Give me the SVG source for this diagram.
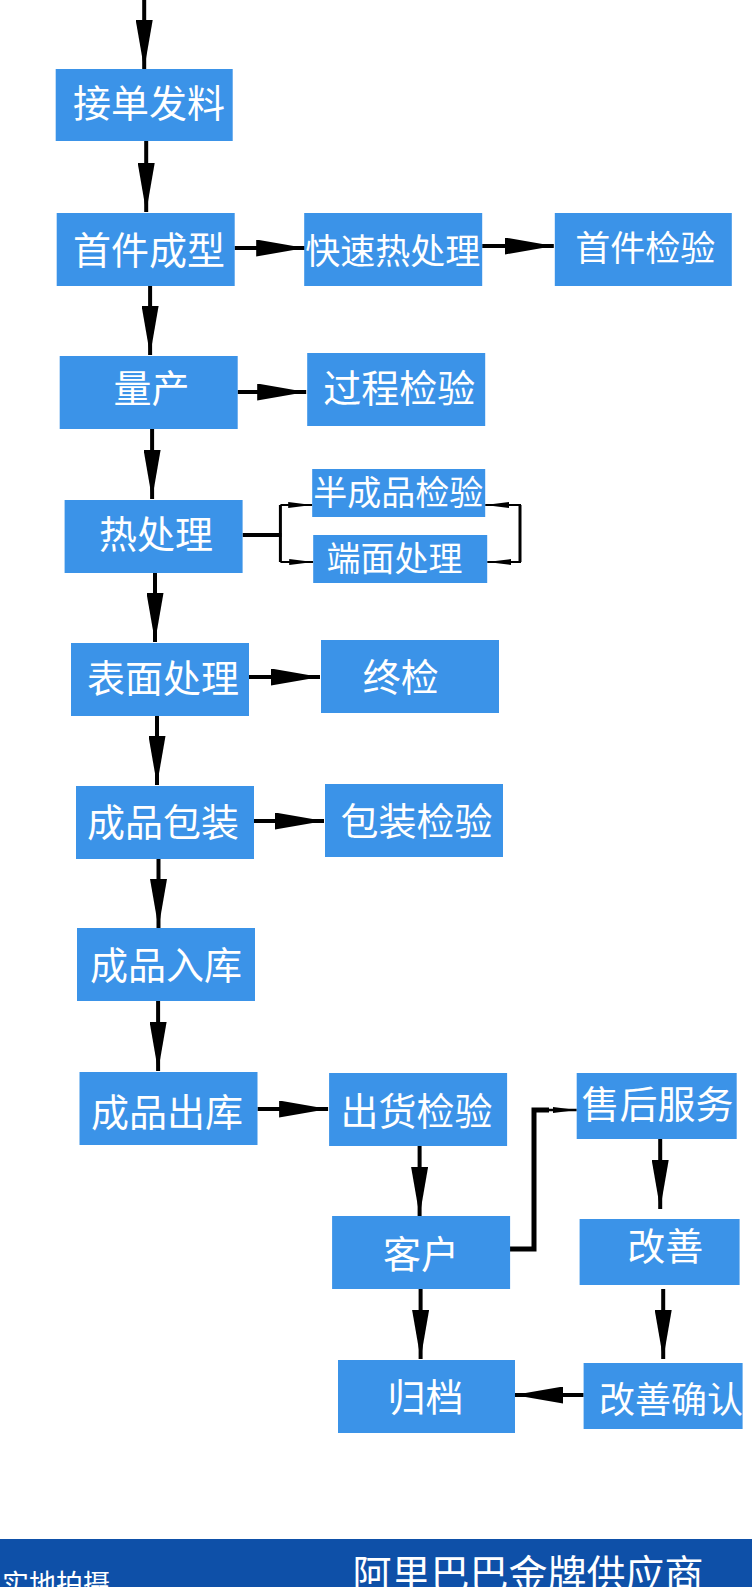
<svg xmlns="http://www.w3.org/2000/svg" width="752" height="1587" viewBox="0 0 752 1587">
<defs>
<style>
.b{fill:#3b93e8}
.t{fill:#fff;font-family:"Noto Sans CJK SC","Noto Sans",sans-serif;text-anchor:middle}
.c{stroke:#000;stroke-width:4;fill:none}
.s{stroke:#000;stroke-width:2;fill:none}
</style>
<marker id="a" markerUnits="userSpaceOnUse" markerWidth="49" markerHeight="17" refX="49" refY="8.5" orient="auto" viewBox="0 0 49 17"><path d="M0,0 L49,8.5 L0,17 Z" fill="#000"/></marker>
<marker id="m" markerUnits="userSpaceOnUse" markerWidth="24" markerHeight="6" refX="24" refY="3" orient="auto" viewBox="0 0 24 6"><path d="M0,0 L24,3 L0,6 Z" fill="#000"/></marker>
</defs>
<rect width="752" height="1587" fill="#fff"/>
<g id="connectors">
<path class="c" marker-end="url(#a)" d="M144.2,0 V69"/>
<path class="c" marker-end="url(#a)" d="M146.2,141 V212"/>
<path class="c" marker-end="url(#a)" d="M150.1,286 V355"/>
<path class="c" marker-end="url(#a)" d="M152.1,429 V499"/>
<path class="c" marker-end="url(#a)" d="M155,573 V642"/>
<path class="c" marker-end="url(#a)" d="M157,716 V785"/>
<path class="c" marker-end="url(#a)" d="M158.5,859 V928"/>
<path class="c" marker-end="url(#a)" d="M158.1,1001 V1071"/>
<path class="c" marker-end="url(#a)" d="M419.6,1146 V1216"/>
<path class="c" marker-end="url(#a)" d="M420.6,1289 V1359"/>
<path class="c" marker-end="url(#a)" d="M660.2,1139 V1209"/>
<path class="c" marker-end="url(#a)" d="M663.2,1289 V1359"/>
<path class="c" marker-end="url(#a)" d="M234.6,248 H305.2"/>
<path class="c" marker-end="url(#a)" d="M482.2,246 H553.8"/>
<path class="c" marker-end="url(#a)" d="M237.6,392 H306.2"/>
<path class="c" marker-end="url(#a)" d="M249,677 H320"/>
<path class="c" marker-end="url(#a)" d="M254,821 H324"/>
<path class="c" marker-end="url(#a)" d="M257.5,1109 H328.1"/>
<path class="c" marker-end="url(#a)" d="M583.6,1395 H514"/>
<path class="c" d="M242.6,535 H281.4"/>
<path class="s" style="stroke-width:3" d="M280.4,505 V562"/>
<path class="s" marker-end="url(#m)" d="M280.4,505 H312.2"/>
<path class="s" marker-end="url(#m)" d="M280.4,562 H313.2"/>
<path class="s" style="stroke-width:3" d="M520,505 V562"/>
<path class="s" marker-end="url(#m)" d="M521,505 H485.2"/>
<path class="s" marker-end="url(#m)" d="M521,562 H487.2"/>
<path class="c" style="stroke-width:5" d="M510,1249 H534 V1110 H549"/>
<path class="s" marker-end="url(#m)" style="stroke-width:2.5" d="M537,1110 H576.7"/>
</g>
<g id="n1"><rect class="b" x="55.7" y="69" width="177" height="72"/><text class="t" x="149.1" y="116.5" font-size="38">接单发料</text></g>
<g id="n2"><rect class="b" x="56.7" y="213" width="178" height="73"/><text class="t" x="149.1" y="264" font-size="38">首件成型</text></g>
<g id="n3"><rect class="b" x="304.2" y="213" width="178" height="73"/><text class="t" x="392.7" y="264" font-size="35">快速热处理</text></g>
<g id="n4"><rect class="b" x="554.8" y="213" width="177" height="73"/><text class="t" x="645.3" y="261" font-size="35">首件检验</text></g>
<g id="n5"><rect class="b" x="59.7" y="356" width="178" height="73"/><text class="t" x="151.6" y="401.5" font-size="38">量产</text></g>
<g id="n6"><rect class="b" x="307.2" y="353" width="178" height="73"/><text class="t" x="399.2" y="402" font-size="38">过程检验</text></g>
<g id="n7"><rect class="b" x="64.6" y="500" width="178" height="73"/><text class="t" x="156.1" y="548.4" font-size="38">热处理</text></g>
<g id="n8"><rect class="b" x="312.2" y="469" width="173" height="48"/><text class="t" x="398.2" y="505" font-size="34">半成品检验</text></g>
<g id="n9"><rect class="b" x="313.2" y="535" width="174" height="48"/><text class="t" x="394.4" y="571" font-size="34">端面处理</text></g>
<g id="n10"><rect class="b" x="71" y="643" width="178" height="73"/><text class="t" x="163" y="692.4" font-size="38">表面处理</text></g>
<g id="n11"><rect class="b" x="321" y="640" width="178" height="73"/><text class="t" x="400.7" y="691.4" font-size="38">终检</text></g>
<g id="n12"><rect class="b" x="76" y="786" width="178" height="73"/><text class="t" x="163" y="836.4" font-size="38">成品包装</text></g>
<g id="n13"><rect class="b" x="325" y="784" width="178" height="73"/><text class="t" x="416.5" y="835.4" font-size="38">包装检验</text></g>
<g id="n14"><rect class="b" x="77" y="928" width="178" height="73"/><text class="t" x="166" y="979.4" font-size="38">成品入库</text></g>
<g id="n15"><rect class="b" x="79.5" y="1072" width="178" height="73"/><text class="t" x="167" y="1126" font-size="38">成品出库</text></g>
<g id="n16"><rect class="b" x="329.1" y="1073" width="178" height="73"/><text class="t" x="416.6" y="1125" font-size="38">出货检验</text></g>
<g id="n17"><rect class="b" x="332.1" y="1216" width="178" height="73"/><text class="t" x="421" y="1268" font-size="38">客户</text></g>
<g id="n18"><rect class="b" x="338" y="1360" width="177" height="73"/><text class="t" x="425.5" y="1410.6" font-size="38">归档</text></g>
<g id="n19"><rect class="b" x="576.7" y="1073" width="160" height="66"/><text class="t" x="657.6" y="1118.4" font-size="38">售后服务</text></g>
<g id="n20"><rect class="b" x="579.6" y="1219" width="160" height="66"/><text class="t" x="665.2" y="1260" font-size="38">改善</text></g>
<g id="n21"><rect class="b" x="583.6" y="1363" width="159" height="66"/><text class="t" x="671.1" y="1412.7" font-size="36">改善确认</text></g>
<g id="footer"><rect x="0" y="1539" width="752" height="48" fill="#0e50a8"/>
<text x="2" y="1594" font-size="27" fill="#fff" font-family="'Noto Sans CJK SC','Noto Sans',sans-serif">实地拍摄</text>
<text x="528" y="1588" font-size="39" fill="#fff" text-anchor="middle" font-family="'Noto Sans CJK SC','Noto Sans',sans-serif">阿里巴巴金牌供应商</text>
</g>
</svg>
